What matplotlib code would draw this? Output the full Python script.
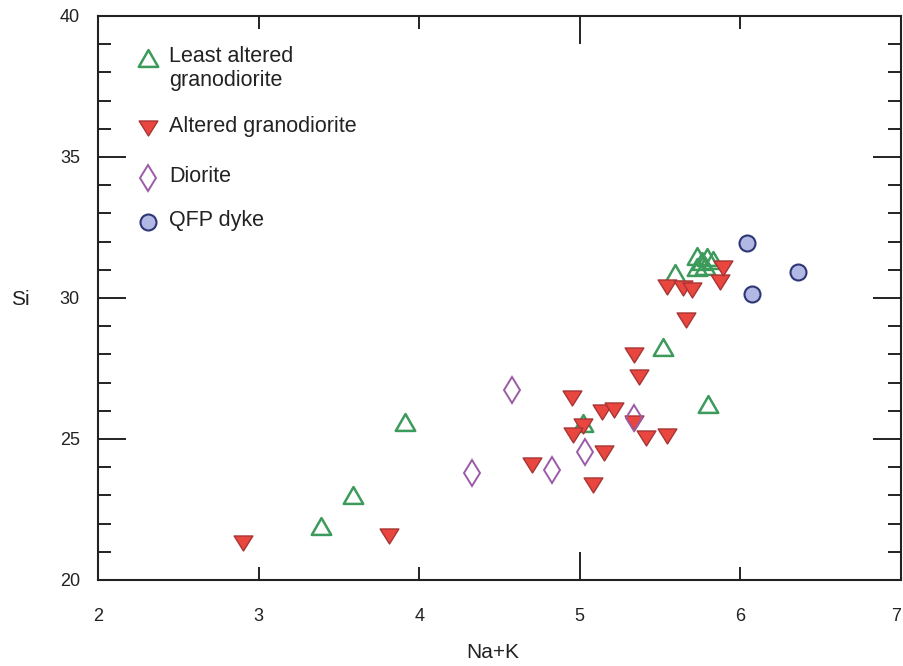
import matplotlib
matplotlib.use("Agg")
import matplotlib.pyplot as plt
from matplotlib.path import Path
from matplotlib.ticker import MultipleLocator, FormatStrFormatter

plt.rcParams["font.family"] = ["Liberation Sans", "DejaVu Sans"]

# Least altered granodiorite
least_x = [3.39, 3.59, 3.91, 5.02, 5.52, 5.80, 5.59, 5.73, 5.79, 5.83, 5.73, 5.78, 5.76]
least_y = [21.9, 23.0, 25.6, 25.57, 28.26, 26.24, 30.89, 31.5, 31.45, 31.35, 31.1, 31.12, 31.3]

# Altered granodiorite
alt_x = [2.90, 3.81, 5.34, 5.37, 4.95, 5.14, 5.21, 5.02, 4.96, 5.34, 5.41, 5.54,
         5.15, 4.70, 5.08, 5.54, 5.64, 5.70, 5.87, 5.89, 5.66]
alt_y = [21.31, 21.56, 27.98, 27.2, 26.45, 25.96, 26.03, 25.46, 25.14, 25.57, 25.04, 25.1,
         24.5, 24.08, 23.37, 30.39, 30.35, 30.28, 30.57, 31.06, 29.22]

# Diorite
dio_x = [4.58, 5.34, 5.03, 4.83, 4.33]
dio_y = [26.74, 25.74, 24.54, 23.9, 23.79]

# QFP dyke
qfp_x = [6.04, 6.36, 6.07]
qfp_y = [31.95, 30.92, 30.14]

legend_labels = ["Least altered\ngranodiorite", "Altered granodiorite", "Diorite", "QFP dyke"]

# equilateral triangles centred on their bounding box
tri_up = Path([(0, 0.433), (-0.5, -0.433), (0.5, -0.433), (0, 0.433)],
              [Path.MOVETO, Path.LINETO, Path.LINETO, Path.CLOSEPOLY])
tri_down = Path([(0, -0.40), (-0.5, 0.40), (0.5, 0.40), (0, -0.40)],
                [Path.MOVETO, Path.LINETO, Path.LINETO, Path.CLOSEPOLY])

styles = [
    dict(marker=tri_up, markersize=14, markerfacecolor="none",
         markeredgecolor="#3c9a5a", markeredgewidth=1.8),
    dict(marker=tri_down, markersize=13.5, markerfacecolor="#e8463f",
         markeredgecolor="#a83434", markeredgewidth=1.0),
    dict(marker="d", markersize=13.5, markerfacecolor="none",
         markeredgecolor="#9b5ba6", markeredgewidth=1.4),
    dict(marker="o", markersize=11.5, markerfacecolor="#b0b8e3",
         markeredgecolor="#2e3575", markeredgewidth=1.5),
]

fig = plt.figure(figsize=(9.04, 6.66), dpi=100)
ax = fig.add_axes([98 / 904, 1 - 580 / 666, 803 / 904, 564 / 666])

series = [(least_x, least_y), (alt_x, alt_y), (dio_x, dio_y), (qfp_x, qfp_y)]
for (xs, ys), st in zip(series, styles):
    ax.plot(xs, ys, linestyle="none", **st)

ax.set_xlim(2, 7)
ax.set_ylim(20, 40)

# ticks on all four sides, pointing inward
ax.xaxis.set_major_locator(MultipleLocator(5))
ax.xaxis.set_minor_locator(MultipleLocator(1))
ax.xaxis.set_minor_formatter(FormatStrFormatter("%d"))
ax.yaxis.set_major_locator(MultipleLocator(5))
ax.yaxis.set_minor_locator(MultipleLocator(1))
ax.tick_params(axis="both", which="both", direction="in", top=True, right=True,
               width=1.4, color="#222222", labelcolor="#222222", labelsize=13)
ax.tick_params(axis="both", which="major", length=20)
ax.tick_params(axis="both", which="minor", length=9.5)
ax.tick_params(axis="x", which="both", pad=20)
ax.tick_params(axis="y", which="both", pad=13)

for sp in ax.spines.values():
    sp.set_linewidth(1.5)
    sp.set_color("#222222")

ax.set_xlabel("Na+K", fontsize=15, color="#222222")
ax.xaxis.set_label_coords(0.492, -0.128)
ax.xaxis.label.set_va("center")
ax.set_ylabel("Si", fontsize=15, color="#222222", rotation=0, ha="center", va="center")
ax.yaxis.set_label_coords(-0.097, 0.4965)

# keep the label at the right edge inside the figure
fig.canvas.draw()
for lab in ax.xaxis.get_ticklabels(which="minor"):
    if lab.get_text() == "7":
        lab.set_horizontalalignment("right")

# legend, upper left, without frame
leg_marker_x = 0.0623
leg_text_x = 0.0884
leg_y = [0.9255, 0.8014, 0.7128, 0.6348]
for lbl, st, yy in zip(legend_labels, styles, leg_y):
    ax.plot([leg_marker_x], [yy], transform=ax.transAxes, clip_on=False,
            linestyle="none", **st)
    lines = lbl.split("\n")
    for i, line in enumerate(lines):
        ax.text(leg_text_x, yy + 0.002 - i * 0.0415, line, transform=ax.transAxes,
                fontsize=15.5, color="#222222", ha="left", va="center")

fig.savefig("out.png", dpi=100)
